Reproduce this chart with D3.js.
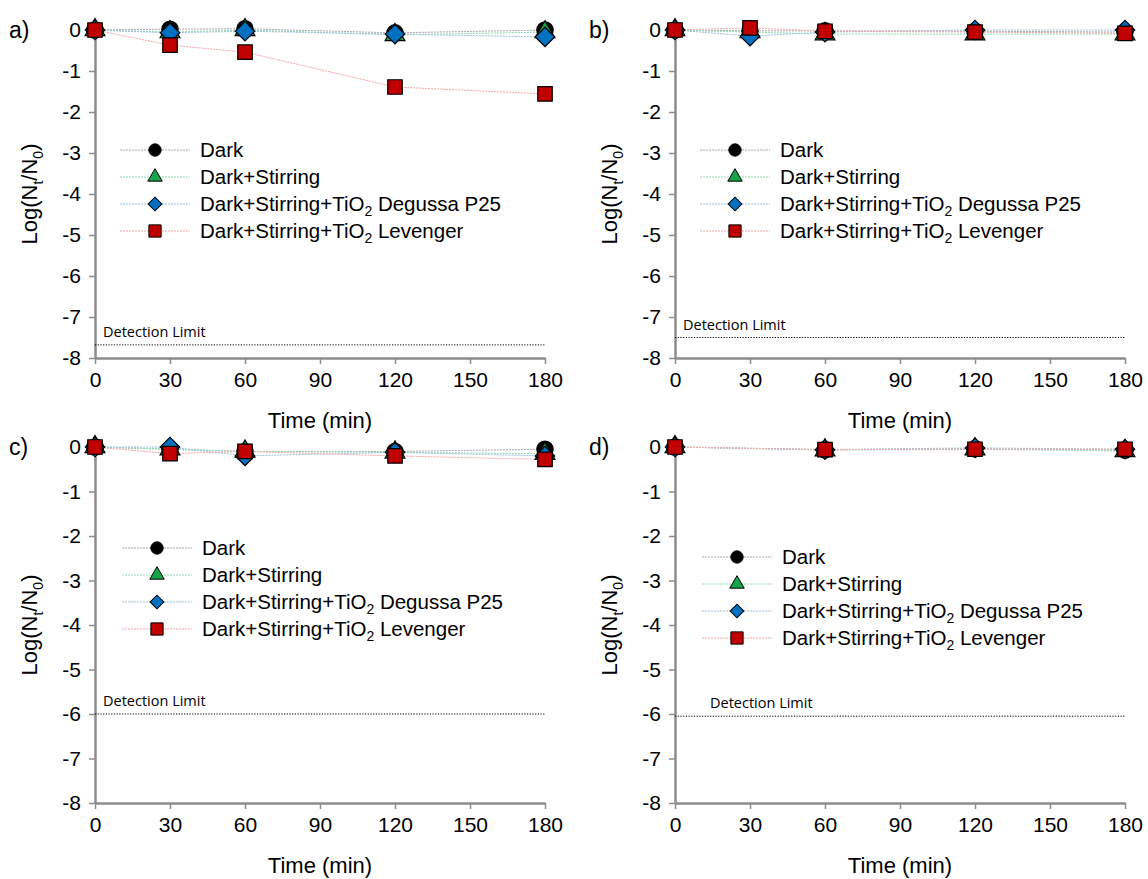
<!DOCTYPE html>
<html>
<head>
<meta charset="utf-8">
<script src="https://cdn.jsdelivr.net/npm/d3@7"></script>
<style>
  body { margin: 0; background: #fff; }
  svg text { font-family: "Liberation Sans", Arial, sans-serif; font-weight: 400; fill: #000; }
</style>
</head>
<body>
<svg id="chart" width="1148" height="879"></svg>
<script>
// time points (min)
var timesABC = [0, 30, 60, 120, 180];
var timesD = [0, 60, 120, 180];
var xTicks = [0, 30, 60, 90, 120, 150, 180];
var yTicks = [0, -1, -2, -3, -4, -5, -6, -7, -8];

var seriesNames = ["Dark", "Dark+Stirring", "Dark+Stirring+TiO2 Degussa P25", "Dark+Stirring+TiO2 Levenger"];

// a)
var aDark = [0, 0.02, 0.03, -0.07, 0.0];
var aStir = [0, -0.05, 0.0, -0.12, -0.05];
var aP25 = [0, -0.07, -0.03, -0.1, -0.17];
var aLev = [0, -0.37, -0.54, -1.39, -1.56];
// b)
var bDark = [0, -0.02, -0.02, -0.03, -0.05];
var bStir = [0, -0.05, -0.1, -0.1, -0.1];
var bP25 = [0, -0.15, -0.05, 0.0, 0.0];
var bLev = [0, 0.05, -0.03, -0.05, -0.08];
// c)
var cDark = [0, -0.05, -0.1, -0.1, -0.05];
var cStir = [0, -0.05, -0.1, -0.12, -0.15];
var cP25 = [0, 0.0, -0.2, -0.12, -0.2];
var cLev = [0, -0.15, -0.1, -0.2, -0.28];
// d)
var dDark = [0, -0.06, -0.04, -0.07];
var dStir = [0, -0.07, -0.05, -0.09];
var dP25 = [0, -0.06, -0.02, -0.05];
var dLev = [0, -0.06, -0.05, -0.05];

var detectionLimits = [-7.68, -7.5, -6.0, -6.05];
var panelLabels = ["a)", "b)", "c)", "d)"];

// styling per series
var markerFill = ["#000000", "#17a34a", "#0070c0", "#c00000"];
var lineColour = ["#a8a8a8", "#8fdcb0", "#9cc3e0", "#f3a6a6"];
var markerType = [d3.symbolCircle, d3.symbolTriangle, d3.symbolSquare, d3.symbolSquare];
var markerRotate = [0, 0, 45, 0];
var markerSize = [210, 170, 190, 210];
var legendSize = [120, 90, 95, 150];

var panels = [
    {times: timesABC, series: [aDark, aStir, aP25, aLev], left: 95, right: 545, top: 30, bottom: 358, legX: 120, legY: 150, dlX: 103},
    {times: timesABC, series: [bDark, bStir, bP25, bLev], left: 675, right: 1125, top: 30, bottom: 358, legX: 700, legY: 150, dlX: 683},
    {times: timesABC, series: [cDark, cStir, cP25, cLev], left: 95, right: 545, top: 447, bottom: 803, legX: 122, legY: 548, dlX: 103},
    {times: timesD, series: [dDark, dStir, dP25, dLev], left: 675, right: 1125, top: 447, bottom: 803, legX: 702, legY: 557, dlX: 710}
];

var svg = d3.select("#chart");

panels.forEach(function (p, pi) {
    var g = svg.append("g");

    var x = d3.scaleLinear().domain([0, 180]).range([p.left, p.right]);
    var y = d3.scaleLinear().domain([-8, 0]).range([p.bottom, p.top]);

    //Axes
    var xAxis = g.append("g")
        .attr("transform", "translate(0," + p.bottom + ")")
        .call(d3.axisBottom(x).tickValues(xTicks).tickSize(6).tickSizeOuter(0).tickPadding(8));
    var yAxis = g.append("g")
        .attr("transform", "translate(" + p.left + ",0)")
        .call(d3.axisLeft(y).tickValues(yTicks).tickSize(6).tickSizeOuter(0).tickPadding(8)
            .tickFormat(function (d) { return d === 0 ? "0" : "-" + Math.abs(d); }));
    [xAxis, yAxis].forEach(function (a) {
        a.attr("font-family", null);
        a.select(".domain").attr("stroke", "#8c8c8c").attr("stroke-width", 2.5);
        a.selectAll(".tick line").attr("stroke", "#8c8c8c").attr("stroke-width", 1.5);
        a.selectAll(".tick text").style("font-size", "21px").attr("fill", "#000");
    });

    //Axis titles
    g.append("text")
        .attr("x", (p.left + p.right) / 2)
        .attr("y", p.bottom + 70)
        .attr("text-anchor", "middle")
        .style("font-size", "22px")
        .text("Time (min)");

    var yt = g.append("text")
        .attr("transform", "translate(" + (p.left - 58) + "," + ((p.top + p.bottom) / 2) + ") rotate(-90)")
        .attr("text-anchor", "middle")
        .style("font-size", "22px");
    yt.append("tspan").text("Log(N");
    yt.append("tspan").text("t").style("font-size", "14px").attr("dy", 6);
    yt.append("tspan").text("/N").attr("dy", -6);
    yt.append("tspan").text("0").style("font-size", "14px").attr("dy", 6);
    yt.append("tspan").text(")").attr("dy", -6);

    //Panel label
    g.append("text")
        .attr("x", p.left - 86)
        .attr("y", p.top + 8)
        .style("font-size", "23px")
        .text(panelLabels[pi]);

    //Detection limit
    g.append("line")
        .attr("x1", p.left).attr("x2", p.right)
        .attr("y1", y(detectionLimits[pi])).attr("y2", y(detectionLimits[pi]))
        .attr("stroke", "#000").attr("stroke-width", 1)
        .attr("stroke-dasharray", "1.2,1.5");
    g.append("text")
        .attr("x", p.dlX)
        .attr("y", y(detectionLimits[pi]) - 8)
        .style("font-size", "14.5px")
        .style("font-family", "'Open Sans', 'Noto Sans', sans-serif")
        .text("Detection Limit");

    //Lines
    var line = d3.line()
        .x(function (d, i) { return x(p.times[i]); })
        .y(function (d) { return y(d); });

    p.series.forEach(function (s, si) {
        g.append("path")
            .attr("d", line(s))
            .attr("fill", "none")
            .attr("stroke", lineColour[si])
            .attr("stroke-width", 1)
            .attr("stroke-dasharray", "2,1");
    });

    //Markers
    p.series.forEach(function (s, si) {
        g.selectAll(".m" + si)
            .data(s)
            .enter()
            .append("path")
            .attr("d", d3.symbol().type(markerType[si]).size(markerSize[si]))
            .attr("transform", function (d, i) {
                return "translate(" + x(p.times[i]) + "," + y(d) + ") rotate(" + markerRotate[si] + ")";
            })
            .attr("fill", markerFill[si])
            .attr("stroke", "#000")
            .attr("stroke-width", 1.2);
    });

    //Legend
    var leg = g.append("g").attr("transform", "translate(" + p.legX + "," + p.legY + ")");
    seriesNames.forEach(function (name, si) {
        var row = leg.append("g").attr("transform", "translate(0," + (si * 27) + ")");
        row.append("line")
            .attr("x1", 0).attr("x2", 70)
            .attr("stroke", lineColour[si]).attr("stroke-width", 1)
            .attr("stroke-dasharray", "2,1");
        row.append("path")
            .attr("d", d3.symbol().type(markerType[si]).size(legendSize[si]))
            .attr("transform", "translate(35,0) rotate(" + markerRotate[si] + ")")
            .attr("fill", markerFill[si])
            .attr("stroke", "#000")
            .attr("stroke-width", 1);
        var t = row.append("text")
            .attr("x", 80)
            .attr("y", 7)
            .style("font-size", "20.5px");
        if (name.indexOf("TiO2") >= 0) {
            var parts = name.split("TiO2");
            t.append("tspan").text(parts[0] + "TiO");
            t.append("tspan").text("2").style("font-size", "14px").attr("dy", 5);
            t.append("tspan").text(parts[1]).attr("dy", -5);
        } else {
            t.text(name);
        }
    });
});
</script>
</body>
</html>
